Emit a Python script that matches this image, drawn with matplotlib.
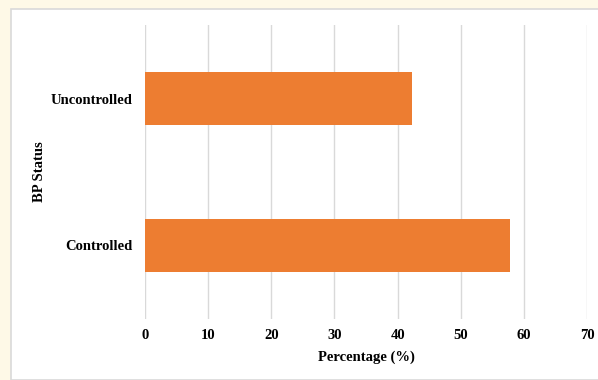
import matplotlib
matplotlib.use('Agg')
import matplotlib.pyplot as plt
from matplotlib.patches import Rectangle

categories = ['Controlled', 'Uncontrolled']
percentages = [57.8, 42.3]
x_ticks = [0, 10, 20, 30, 40, 50, 60, 70]

plt.rcParams['font.family'] = 'Liberation Serif'
plt.rcParams['font.weight'] = 'bold'

fig = plt.figure(figsize=(5.98, 3.8), dpi=100)
fig.patch.set_facecolor('#fef9e7')

# white chart panel behind the axes
panel = Rectangle((11 / 598, 0), 1.0, 1 - 9 / 380, transform=fig.transFigure,
                  facecolor='white', edgecolor='#d9d9d9', linewidth=1.2, zorder=-1)
fig.patches.append(panel)

ax = fig.add_axes([145 / 598, 61 / 380, 442 / 598, 294 / 380])
ax.set_facecolor('none')

ax.barh(categories, percentages, height=0.36, color='#ed7d31', zorder=3)

ax.set_xlim(0, 70)
ax.set_ylim(-0.5, 1.5)
ax.set_xticks(x_ticks)
ax.grid(axis='x', color='#d9d9d9', linewidth=1)
ax.set_axisbelow(True)
for s in ax.spines.values():
    s.set_visible(False)
ax.tick_params(axis='both', length=0, labelsize=10.5)
ax.tick_params(axis='x', pad=7)
ax.tick_params(axis='y', pad=9)

ax.set_xlabel('Percentage (%)', fontsize=10.5, fontweight='bold', labelpad=6)
ax.set_ylabel('BP Status', fontsize=10.5, fontweight='bold')
ax.yaxis.set_label_coords(-0.225, 0.5)

fig.savefig('out.png', dpi=100, facecolor=fig.get_facecolor())
